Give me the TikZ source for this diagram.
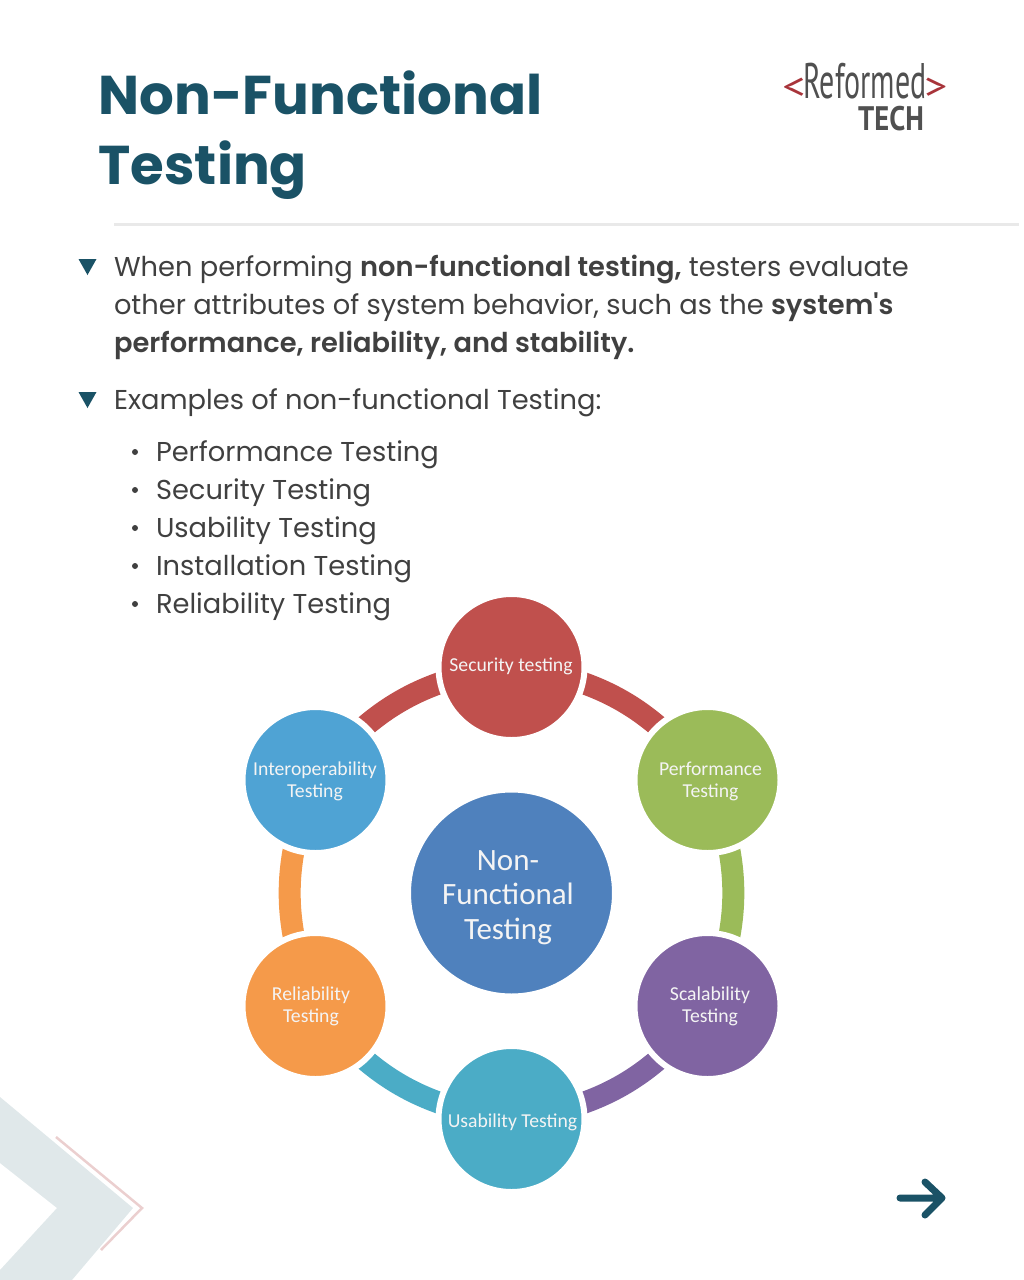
\documentclass[tikz,border=0pt]{standalone}
\usepackage{fontspec}
\setmainfont{Poppins}[BoldFont={Poppins SemiBold},Ligatures=TeXOff]
\newfontfamily\titlefont{Poppins Bold}
\newfontfamily\ringfont{Carlito}
\newfontfamily\logofont{PT Sans}
\usetikzlibrary{backgrounds}
\newlength{\du}
\setlength{\du}{1pt}
\definecolor{titlecolor}{HTML}{1A5266}
\definecolor{bodycolor}{HTML}{404040}
\definecolor{rulecolor}{HTML}{E9E9E9}
\definecolor{logored}{HTML}{A8343A}
\definecolor{logogray}{HTML}{505050}
\definecolor{chevroncolor}{HTML}{E0E8EA}
\definecolor{pinkcolor}{HTML}{EBCFCF}
\definecolor{labelcolor}{HTML}{F4F4F4}
\definecolor{centercolor}{HTML}{4F81BD}
\definecolor{secred}{HTML}{C0504D}
\definecolor{perfgreen}{HTML}{9BBB59}
\definecolor{scalpurple}{HTML}{8064A2}
\definecolor{usabteal}{HTML}{4BACC6}
\definecolor{reliorange}{HTML}{F59A4A}
\definecolor{interblue}{HTML}{4FA3D4}
\tikzset{
  titletext/.style={anchor=base west,inner sep=0pt,outer sep=0pt,text=titlecolor,font=\titlefont\fontsize{54.6}{60}\selectfont},
  bodytext/.style={anchor=base west,inner sep=0pt,outer sep=0pt,text=bodycolor,font=\fontsize{27.3}{38}\selectfont},
  triangle/.style={fill=titlecolor},
  listdot/.style={circle,fill=bodycolor,inner sep=0pt,minimum size=6\du},
  ringnode/.style={circle,draw=white,line width=6\du,minimum size=146\du,inner sep=0pt},
  ringlabel/.style={inner sep=0pt,text=labelcolor,align=center,font=\ringfont\fontsize{19.7}{22}\selectfont},
  ringarc/.style={line width=22\du,draw=#1},
}
\begin{document}
\begin{tikzpicture}[x=1\du,y=-1\du]
\useasboundingbox (0,0) rectangle (1024,1280);
% corner chevron
\fill[chevroncolor] (0,1097)--(133,1208)--(72,1280)--(0,1280)--(0,1270)--(57,1208)--(0,1163)--cycle;
\draw[pinkcolor,line width=2.5\du] (56,1137)--(142,1208)--(101,1250);
% title
\node[titletext] (title1) at (98.5,114) {Non-Functional};
\node[titletext] (title2) at (98.5,184) {Testing};
% logo
\node[anchor=base,inner sep=0pt,text=logored,xscale=1.2,font=\logofont\fontsize{38}{38}\selectfont] (logoleft) at (794,99) {<};
\node[anchor=base,inner sep=0pt,text=logogray,xscale=0.6,font=\logofont\fontsize{50}{50}\selectfont] (logoname) at (865,98) {Reformed};
\node[anchor=base,inner sep=0pt,text=logored,xscale=1.2,font=\logofont\fontsize{38}{38}\selectfont] (logoright) at (936,99) {>};
\node[anchor=base,inner sep=0pt,text=logogray,xscale=0.84,font=\logofont\bfseries\fontsize{34}{34}\selectfont] (logotech) at (891,130) {TECH};
\draw[rulecolor,line width=3\du] (114,224)--(1019,224);
% bullets
\fill[triangle] (78.5,259)--(96.5,259)--(87.5,275)--cycle;
\fill[triangle] (78.5,392)--(96.5,392)--(87.5,408)--cycle;
\node[bodytext] (line1) at (114,276) {When performing \textbf{non-functional testing,} testers evaluate};
\node[bodytext] (line2) at (114,314) {other attributes of system behavior, such as the \textbf{system's}};
\node[bodytext] (line3) at (114,352) {\textbf{performance, reliability, and stability.}};
\node[bodytext] (line4) at (114,409) {Examples of non-functional Testing:};
\node[listdot] (dot1) at (135,452) {};
\node[listdot] (dot2) at (135,490) {};
\node[listdot] (dot3) at (135,528) {};
\node[listdot] (dot4) at (135,566) {};
\node[listdot] (dot5) at (135,604) {};
\node[bodytext] (item1) at (156,461) {Performance Testing};
\node[bodytext] (item2) at (156,499) {Security Testing};
\node[bodytext] (item3) at (156,537) {Usability Testing};
\node[bodytext] (item4) at (156,575) {Installation Testing};
\node[bodytext] (item5) at (156,613) {Reliability Testing};
% ring
\node[ringnode,fill=centercolor,minimum size=207\du] (center) at (511.5,893) {};
\node[ringnode,fill=secred] (security) at (511.5,667) {};
\node[ringnode,fill=perfgreen] (performance) at (707.5,780) {};
\node[ringnode,fill=scalpurple] (scalability) at (707.5,1006) {};
\node[ringnode,fill=usabteal] (usability) at (511.5,1119) {};
\node[ringnode,fill=reliorange] (reliability) at (315.5,1006) {};
\node[ringnode,fill=interblue] (interop) at (315.5,780) {};
\node[ringlabel,font=\ringfont\fontsize{31}{34.5}\selectfont] (centertext) at (508,897.5) {Non-\\Functional\\Testing};
\node[ringlabel] (securitytext) at (511,666) {Security testing};
\node[ringlabel] (performancetext) at (710.5,781) {Performance\\Testing};
\node[ringlabel] (scalabilitytext) at (710,1006.5) {Scalability\\Testing};
\node[ringlabel] (usabilitytext) at (512.5,1122) {Usability Testing};
\node[ringlabel] (reliabilitytext) at (311,1006.5) {Reliability\\Testing};
\node[ringlabel] (interoptext) at (315,781) {Interoperability\\Testing};
\begin{scope}[on background layer]
\draw[ringarc=secred] (security.center) to[bend left=23] (performance.center);
\draw[ringarc=perfgreen] (performance.center) to[bend left=23] (scalability.center);
\draw[ringarc=scalpurple] (scalability.center) to[bend left=23] (usability.center);
\draw[ringarc=usabteal] (usability.center) to[bend left=23] (reliability.center);
\draw[ringarc=reliorange] (reliability.center) to[bend left=23] (interop.center);
\draw[ringarc=secred] (interop.center) to[bend left=23] (security.center);
\end{scope}
% next arrow
\draw[titlecolor,line width=7\du,line cap=round,line join=round] (900,1198)--(942,1198) (925,1182)--(942,1198)--(925,1215);
\end{tikzpicture}
\end{document}
